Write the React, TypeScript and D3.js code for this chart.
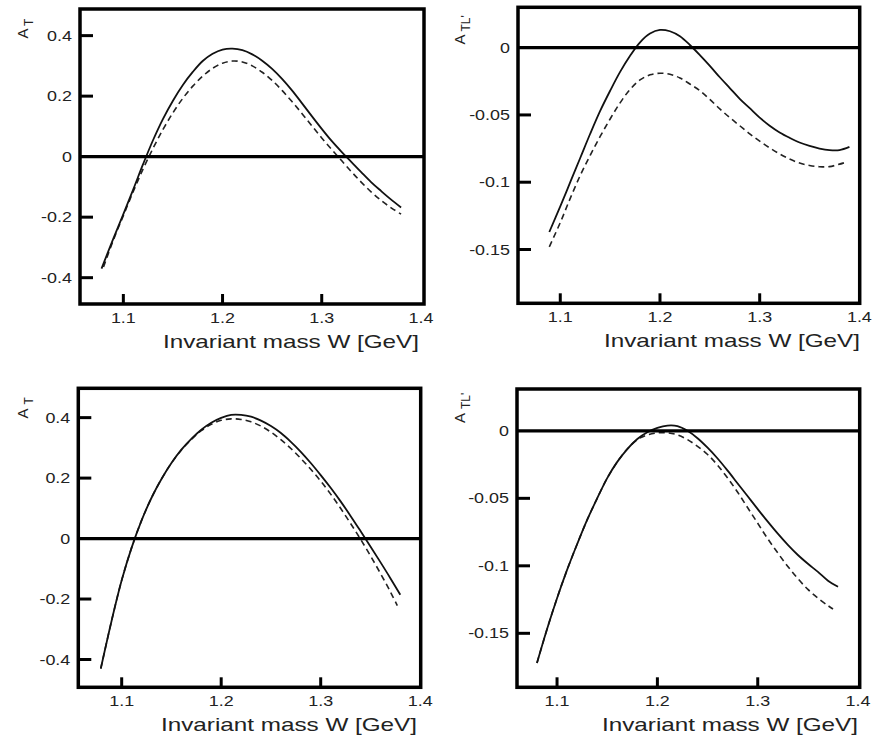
import React from 'react';
import * as d3 from 'd3';

// ---------- data (W in GeV, asymmetry values) ----------
const xTickMarks = [1.1, 1.2, 1.3];
const xTickLabels = [1.1, 1.2, 1.3, 1.4];
const yTicksAT = [0.4, 0.2, 0, -0.2, -0.4];
const yTicksATL = [0, -0.05, -0.1, -0.15];

// Panel 1 (top-left) A_T
const p1Solid: [number, number][] = [
  [1.078, -0.37], [1.09, -0.27], [1.10, -0.19], [1.11, -0.108], [1.12, -0.024], [1.13, 0.055],
  [1.14, 0.125], [1.15, 0.185], [1.16, 0.237], [1.17, 0.28], [1.18, 0.316], [1.19, 0.34],
  [1.20, 0.354], [1.21, 0.357], [1.22, 0.352], [1.23, 0.338], [1.24, 0.317], [1.25, 0.29],
  [1.26, 0.257], [1.27, 0.219], [1.28, 0.177], [1.29, 0.134], [1.30, 0.092], [1.31, 0.052],
  [1.32, 0.016], [1.33, -0.018], [1.34, -0.052], [1.35, -0.085], [1.36, -0.114], [1.37, -0.142],
  [1.38, -0.168],
];
const p1Dashed: [number, number][] = [
  [1.08, -0.365], [1.09, -0.275], [1.10, -0.195], [1.11, -0.115], [1.12, -0.04], [1.13, 0.028],
  [1.14, 0.09], [1.15, 0.145], [1.16, 0.193], [1.17, 0.233], [1.18, 0.266], [1.19, 0.292],
  [1.20, 0.309], [1.21, 0.316], [1.22, 0.313], [1.23, 0.3], [1.24, 0.279], [1.25, 0.252],
  [1.26, 0.219], [1.27, 0.182], [1.28, 0.143], [1.29, 0.102], [1.30, 0.062], [1.31, 0.024],
  [1.32, -0.013], [1.33, -0.05], [1.34, -0.085], [1.35, -0.117], [1.36, -0.145], [1.37, -0.169],
  [1.38, -0.19],
];

// Panel 2 (top-right) A_TL'
const p2Solid: [number, number][] = [
  [1.089, -0.137], [1.10, -0.118], [1.11, -0.1], [1.12, -0.082], [1.13, -0.064], [1.14, -0.047],
  [1.15, -0.032], [1.16, -0.018], [1.17, -0.006], [1.18, 0.004], [1.19, 0.0105], [1.20, 0.0132],
  [1.21, 0.0122], [1.22, 0.0085], [1.23, 0.002], [1.24, -0.0055], [1.25, -0.0135], [1.26, -0.022],
  [1.27, -0.03], [1.28, -0.038], [1.29, -0.045], [1.30, -0.052], [1.31, -0.058], [1.32, -0.063],
  [1.33, -0.067], [1.34, -0.0705], [1.35, -0.073], [1.36, -0.075], [1.37, -0.0762], [1.38, -0.0762],
  [1.39, -0.0738],
];
const p2Dashed: [number, number][] = [
  [1.089, -0.148], [1.10, -0.13], [1.11, -0.112], [1.12, -0.095], [1.13, -0.08], [1.14, -0.066],
  [1.15, -0.053], [1.16, -0.041], [1.17, -0.031], [1.18, -0.024], [1.19, -0.0202], [1.20, -0.019],
  [1.21, -0.0198], [1.22, -0.0225], [1.23, -0.027], [1.24, -0.032], [1.25, -0.0385], [1.26, -0.0455],
  [1.27, -0.052], [1.28, -0.058], [1.29, -0.064], [1.30, -0.0695], [1.31, -0.0745], [1.32, -0.079],
  [1.33, -0.0828], [1.34, -0.0858], [1.35, -0.0876], [1.36, -0.0885], [1.37, -0.0884], [1.385, -0.0855],
];

// Panel 3 (bottom-left) A_T
const p3Solid: [number, number][] = [
  [1.079, -0.43], [1.09, -0.27], [1.10, -0.138], [1.11, -0.03], [1.12, 0.06], [1.13, 0.135],
  [1.14, 0.197], [1.15, 0.25], [1.16, 0.294], [1.17, 0.33], [1.18, 0.36], [1.19, 0.383],
  [1.20, 0.399], [1.21, 0.409], [1.22, 0.409], [1.23, 0.403], [1.24, 0.39], [1.25, 0.372],
  [1.26, 0.349], [1.27, 0.32], [1.28, 0.287], [1.29, 0.25], [1.30, 0.21], [1.31, 0.168],
  [1.32, 0.123], [1.33, 0.075], [1.34, 0.025], [1.35, -0.026], [1.36, -0.078], [1.37, -0.131],
  [1.38, -0.186],
];
const p3Dashed: [number, number][] = [
  [1.079, -0.43], [1.09, -0.27], [1.10, -0.138], [1.11, -0.03], [1.12, 0.06], [1.13, 0.135],
  [1.14, 0.197], [1.15, 0.25], [1.16, 0.293], [1.17, 0.328], [1.18, 0.357], [1.19, 0.378],
  [1.20, 0.391], [1.21, 0.396], [1.22, 0.394], [1.23, 0.386], [1.24, 0.372], [1.25, 0.352],
  [1.26, 0.327], [1.27, 0.298], [1.28, 0.265], [1.29, 0.229], [1.30, 0.19], [1.31, 0.147],
  [1.32, 0.1], [1.33, 0.05], [1.34, -0.002], [1.35, -0.057], [1.36, -0.115], [1.37, -0.176],
  [1.377, -0.222],
];

// Panel 4 (bottom-right) A_TL'
const p4Solid: [number, number][] = [
  [1.08, -0.172], [1.09, -0.147], [1.10, -0.124], [1.11, -0.103], [1.12, -0.084], [1.13, -0.066],
  [1.14, -0.05], [1.15, -0.035], [1.16, -0.023], [1.17, -0.0135], [1.18, -0.006], [1.19, -0.001],
  [1.20, 0.0022], [1.21, 0.0039], [1.22, 0.0035], [1.23, 0.0], [1.24, -0.0055], [1.25, -0.0125],
  [1.26, -0.0205], [1.27, -0.0295], [1.28, -0.039], [1.29, -0.0485], [1.30, -0.058], [1.31, -0.0673],
  [1.32, -0.0762], [1.33, -0.0845], [1.34, -0.092], [1.35, -0.0985], [1.36, -0.1045], [1.37, -0.111],
  [1.38, -0.1155],
];
const p4Dashed: [number, number][] = [
  [1.08, -0.172], [1.09, -0.147], [1.10, -0.124], [1.11, -0.103], [1.12, -0.084], [1.13, -0.066],
  [1.14, -0.05], [1.15, -0.035], [1.16, -0.023], [1.17, -0.0135], [1.18, -0.0065], [1.19, -0.003],
  [1.20, -0.0015], [1.21, -0.0015], [1.22, -0.003], [1.23, -0.0065], [1.24, -0.0115], [1.25, -0.0175],
  [1.26, -0.0255], [1.27, -0.035], [1.28, -0.0455], [1.29, -0.057], [1.30, -0.0685], [1.31, -0.08],
  [1.32, -0.0905], [1.33, -0.1005], [1.34, -0.1095], [1.35, -0.1175], [1.36, -0.124], [1.37, -0.1295],
  [1.375, -0.132],
];

const xTitle = 'Invariant mass W [GeV]';

type Pt = [number, number];
interface PanelProps {
  id: string;
  box: { left: number; right: number; top: number; bottom: number };
  xDomain: [number, number];
  yDomain: [number, number];
  yTicks: number[];
  solid: Pt[];
  dashed: Pt[];
  sub: string;
  labelPos: [number, number];
  subGap: number;
  titleEnd: number;
}

const FONT = '"Liberation Sans", Arial, Helvetica, sans-serif';
const SX = 1.28;
const TICK_FS = 14;

// approximate Arial advance widths (em) used to stretch text horizontally like the source
const charW: Record<string, number> = { '-': 0.333, '.': 0.278, A: 0.667, T: 0.611, L: 0.556, "'": 0.191 };
const textW = (s: string, fs: number) =>
  s.split('').reduce((a, c) => a + (charW[c] ?? 0.556), 0) * fs;

function Panel({ id, box, xDomain, yDomain, yTicks, solid, dashed, sub, labelPos, subGap, titleEnd }: PanelProps) {
  const x = d3.scaleLinear().domain(xDomain).range([box.left, box.right]);
  const y = d3.scaleLinear().domain(yDomain).range([box.bottom, box.top]);
  const line = d3
    .line<Pt>()
    .x((d) => x(d[0]))
    .y((d) => y(d[1]))
    .curve(d3.curveCatmullRom.alpha(0.5));
  const fmt = (v: number) => (v === 0 ? '0' : String(v));

  // rotated y-label, glyph by glyph (reads bottom to top)
  const aFs = 15;
  const sFs = 12;
  const subChars = sub.split('');
  const subX: number[] = [];
  const subY: number[] = [];
  let cy = labelPos[1] - textW('A', aFs) - subGap;
  subChars.forEach((c) => {
    subX.push(labelPos[0] + 5);
    subY.push(cy);
    cy -= textW(c, sFs);
  });

  return (
    <g>
      <defs>
        <clipPath id={id}>
          <rect x={box.left} y={box.top} width={box.right - box.left} height={box.bottom - box.top} />
        </clipPath>
      </defs>
      <g clipPath={`url(#${id})`}>
        <path d={line(dashed) || ''} fill="none" stroke="#222" strokeWidth={1.6} strokeDasharray="6,4" />
        <path d={line(solid) || ''} fill="none" stroke="#111" strokeWidth={1.8} />
      </g>
      {/* zero line */}
      <line x1={box.left} x2={box.right} y1={y(0)} y2={y(0)} stroke="#000" strokeWidth={3.2} />
      {/* y ticks */}
      {yTicks.map((t) => (
        <g key={'y' + t}>
          {t !== 0 && (
            <line x1={box.left} x2={box.left + 13} y1={y(t)} y2={y(t)} stroke="#000" strokeWidth={3} />
          )}
          <text
            x={box.left - 8}
            y={y(t)}
            dy="0.36em"
            textAnchor="end"
            fontSize={TICK_FS}
            fontFamily={FONT}
            fill="#222"
            textLength={textW(fmt(t), TICK_FS) * SX}
            lengthAdjust="spacingAndGlyphs"
          >
            {fmt(t)}
          </text>
        </g>
      ))}
      {/* x ticks */}
      {xTickMarks.map((t) => (
        <line key={'xm' + t} x1={x(t)} x2={x(t)} y1={box.bottom} y2={box.bottom - 10} stroke="#000" strokeWidth={3} />
      ))}
      {xTickLabels.map((t) => (
        <text
          key={'xl' + t}
          x={x(t)}
          y={box.bottom + 18.5}
          textAnchor="middle"
          fontSize={TICK_FS}
          fontFamily={FONT}
          fill="#222"
          textLength={textW(t.toFixed(1), TICK_FS) * SX}
          lengthAdjust="spacingAndGlyphs"
        >
          {t.toFixed(1)}
        </text>
      ))}
      {/* frame */}
      <rect
        x={box.left}
        y={box.top}
        width={box.right - box.left}
        height={box.bottom - box.top}
        fill="none"
        stroke="#000"
        strokeWidth={3.5}
      />
      {/* x title */}
      <text
        x={titleEnd}
        y={box.bottom + 44}
        textAnchor="end"
        fontSize={19}
        fontFamily={FONT}
        fill="#222"
        textLength={256}
        lengthAdjust="spacingAndGlyphs"
      >
        {xTitle}
      </text>
      {/* y label */}
      <text x={labelPos[0]} y={labelPos[1]} rotate="-90" fontSize={aFs} fontFamily={FONT} fill="#222">
        A
        <tspan x={subX.join(' ')} y={subY.join(' ')} rotate="-90" fontSize={sFs}>
          {sub}
        </tspan>
      </text>
    </g>
  );
}

export default function App() {
  return (
    <svg
      width={874}
      height={740}
      style={{ position: 'absolute', left: 0, top: 0, background: '#fff' }}
    >
      <rect width={874} height={740} fill="#fff" />
      <Panel
        id="c1"
        box={{ left: 80, right: 424, top: 9, bottom: 304 }}
        xDomain={[1.0563, 1.4031]}
        yDomain={[-0.487, 0.488]}
        yTicks={yTicksAT}
        solid={p1Solid}
        dashed={p1Dashed}
        sub="T"
        labelPos={[28, 38.5]}
        subGap={2.5}
        titleEnd={419}
      />
      <Panel
        id="c2"
        box={{ left: 518, right: 859.7, top: 7.3, bottom: 303.3 }}
        xDomain={[1.0576, 1.4003]}
        yDomain={[-0.19, 0.03]}
        yTicks={yTicksATL}
        solid={p2Solid}
        dashed={p2Dashed}
        sub="TL'"
        labelPos={[465, 44.5]}
        subGap={3}
        titleEnd={860}
      />
      <Panel
        id="c3"
        box={{ left: 78.3, right: 420.7, top: 388.3, bottom: 687.3 }}
        xDomain={[1.0564, 1.4005]}
        yDomain={[-0.492, 0.497]}
        yTicks={yTicksAT}
        solid={p3Solid}
        dashed={p3Dashed}
        sub="T"
        labelPos={[28, 418.5]}
        subGap={4}
        titleEnd={417}
      />
      <Panel
        id="c4"
        box={{ left: 517, right: 859.7, top: 389, bottom: 687.3 }}
        xDomain={[1.0601, 1.4016]}
        yDomain={[-0.19, 0.031]}
        yTicks={yTicksATL}
        solid={p4Solid}
        dashed={p4Dashed}
        sub="TL'"
        labelPos={[465, 423]}
        subGap={4}
        titleEnd={858}
      />
    </svg>
  );
}
